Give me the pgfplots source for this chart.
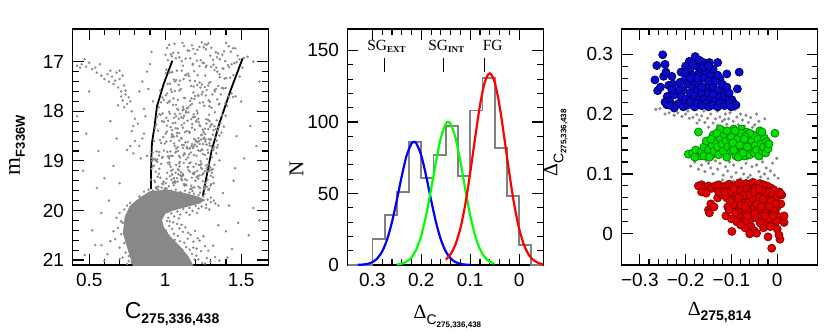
\documentclass[border=0pt]{standalone}
\usepackage{fontspec}
\setmainfont{Liberation Sans}
\newfontfamily\serif{Liberation Serif}
\usepackage{pgfplots}
\pgfplotsset{compat=1.18}

\definecolor{cmdgray}{RGB}{136,136,136}
\definecolor{histgray}{RGB}{128,128,128}
\definecolor{bfill}{RGB}{10,10,205}
\definecolor{bedge}{RGB}{0,0,110}
\definecolor{gfill}{RGB}{0,225,0}
\definecolor{gedge}{RGB}{0,135,0}
\definecolor{rfill}{RGB}{225,0,0}
\definecolor{redge}{RGB}{140,0,0}

\pgfplotsset{
  panel/.style={
    width=196pt, height=236pt, scale only axis,
    tick align=inside,
    ticklabel style={font=\fontsize{19}{19}\selectfont},
    /pgf/number format/assume math mode=true,
    major tick length=11pt, minor tick length=6pt,
    every tick/.style={black, line width=1.1pt},
    axis line style={line width=1.6pt},
    xticklabel style={yshift=-5pt},
    yticklabel style={xshift=-5pt},
    clip=true,
  },
  dot/.style={only marks, mark=*, mark size=4pt, line width=0.8pt},
}

\begin{document}
\begin{tikzpicture}
\useasboundingbox (0,0) rectangle (831pt,333pt);

%% ---------- left: CMD ----------
\begin{axis}[panel,
  at={(72.5pt,68pt)}, anchor=south west,
  xmin=0.39, xmax=1.68, ymin=16.34, ymax=21.1, y dir=reverse,
  xtick={0.5,1,1.5}, minor x tick num=4,
  ytick={17,18,19,20,21}, minor y tick num=4,
  xlabel={\fontsize{23}{23}\selectfont C\raisebox{-5pt}{\fontsize{14}{14}\selectfont\bfseries 275,336,438}},
  xlabel style={at={(axis description cs:0.508,-0.2246)}, anchor=base},
  ylabel={{\serif\fontsize{23}{23}\selectfont m}\raisebox{-5pt}{\fontsize{13}{13}\selectfont\bfseries F336W}},
  ylabel style={at={(axis description cs:-0.283,0.508)}, anchor=center, rotate=0},
]
\addplot[only marks, mark=*, mark size=1pt, color=cmdgray] coordinates {
(1.012,16.72) (1.037,16.85) (1.274,16.66) (1.158,16.78) (1.401,16.62) (1.093,16.91) (1.226,16.70) (1.349,16.83) (1.061,16.64) (1.488,16.95)
(1.185,16.74) (1.297,16.88) (1.124,16.68) (1.432,16.80) (1.018,16.97) (1.253,16.71) (1.376,16.86) (1.147,16.77) (1.519,16.92) (1.209,16.98)
(1.071,16.93) (1.333,16.81) (1.462,16.73) (1.109,16.99) (1.241,16.61) (1.044,16.89) (1.387,16.79) (1.176,16.67) (1.316,16.96) (1.197,16.84)
(1.283,16.63) (1.542,16.90) (1.052,16.82) (1.419,16.69) (1.135,16.94) (1.268,16.75) (1.359,16.95) (1.087,16.82) (1.447,16.73) (1.003,16.86)
(1.212,16.76) (1.304,16.72) (1.166,16.93) (1.395,16.99) (1.026,16.66) (1.477,16.88) (1.233,16.97) (1.114,16.62) (1.342,16.91) (1.261,16.65)
(1.182,17.04) (1.047,17.21) (1.336,17.12) (1.121,17.35) (1.413,17.07) (1.264,17.28) (1.008,17.16) (1.297,17.41) (1.455,17.03) (1.152,17.24)
(1.378,17.13) (1.073,17.37) (1.226,17.09) (1.491,17.30) (1.109,17.18) (1.318,17.06) (1.247,17.02) (1.016,17.45) (1.359,17.31) (1.191,17.19)
(1.283,17.48) (1.064,17.40) (1.437,17.05) (1.139,17.26) (1.211,17.47) (1.402,17.33) (1.032,17.44) (1.343,17.20) (1.171,17.49) (1.266,17.11)
(1.098,17.38) (1.448,17.27) (1.227,17.42) (1.325,17.17) (1.057,17.36) (1.383,17.14) (1.156,17.29) (1.289,17.43) (1.004,17.23) (1.471,17.01)
(1.241,17.46) (1.117,17.08) (1.196,17.39) (1.357,17.25) (1.089,17.47) (1.302,17.10) (1.163,17.38) (1.428,17.32) (1.029,17.22) (1.254,17.03)
(1.391,17.34) (1.133,17.27) (1.508,17.12) (1.213,17.27) (1.077,17.18) (1.348,17.49) (1.181,17.06) (1.272,17.08) (1.421,17.11) (1.043,17.21)
(1.103,17.55) (0.982,17.72) (1.247,17.61) (1.165,17.88) (1.374,17.53) (1.029,17.79) (1.311,17.66) (1.142,17.94) (0.967,17.58) (1.228,17.83)
(1.419,17.70) (1.086,17.97) (1.186,17.62) (1.352,17.86) (1.054,17.74) (1.273,17.57) (1.118,17.91) (1.396,17.84) (1.004,17.68) (1.209,17.99)
(1.327,17.60) (1.071,17.87) (1.261,17.51) (0.991,17.77) (1.437,17.64) (1.152,17.92) (1.038,17.56) (1.294,17.81) (1.197,17.69) (1.121,17.96)
(1.366,17.66) (1.013,17.64) (1.232,17.52) (1.079,17.95) (1.343,17.76) (1.176,17.85) (1.447,17.71) (1.062,17.59) (1.258,17.89) (1.131,17.73)
(1.384,17.54) (0.973,17.82) (1.217,17.67) (1.305,17.93) (1.094,17.58) (1.408,17.89) (1.164,17.79) (1.027,17.81) (1.286,17.78) (1.241,17.66)
(1.115,17.98) (1.357,17.85) (1.043,17.61) (1.192,17.75) (1.326,17.57) (0.957,17.92) (1.268,17.68) (1.137,17.99) (1.398,17.53) (1.083,17.77)
(1.219,17.69) (1.015,17.83) (1.335,17.55) (1.173,17.74) (1.052,17.87) (1.291,17.90) (1.463,17.70) (1.124,17.73) (1.249,17.82) (1.187,17.50)
(1.064,18.05) (1.221,18.22) (0.947,18.11) (1.318,18.38) (1.137,18.03) (1.012,18.29) (1.269,18.16) (1.093,18.44) (1.374,18.08) (1.176,18.33)
(0.978,18.20) (1.242,18.47) (1.106,18.12) (1.333,18.36) (1.051,18.24) (1.289,18.07) (1.158,18.41) (0.934,18.34) (1.207,18.18) (1.357,18.49)
(1.072,18.10) (1.194,18.37) (1.026,18.01) (1.301,18.27) (1.118,18.14) (1.253,18.42) (0.962,18.06) (1.386,18.31) (1.147,18.19) (1.043,18.46)
(1.231,18.30) (1.089,18.15) (1.327,18.02) (1.004,18.45) (1.178,18.26) (1.262,18.35) (0.991,18.21) (1.124,18.09) (1.345,18.39) (1.067,18.23)
(1.213,18.04) (1.036,18.32) (1.282,18.17) (1.161,18.43) (1.398,18.09) (0.953,18.39) (1.109,18.28) (1.237,18.48) (1.019,18.19) (1.315,18.47)
(1.082,18.35) (1.196,18.11) (1.272,18.25) (0.972,18.07) (1.131,18.42) (1.364,18.24) (1.048,18.48) (1.226,18.28) (1.153,18.02) (1.296,18.31)
(1.008,18.13) (1.187,18.06) (1.339,18.18) (1.077,18.44) (1.248,18.37) (0.941,18.27) (1.116,18.33) (1.309,18.26) (1.059,18.13) (1.204,18.21)
(1.142,18.40) (1.371,18.43) (0.983,18.04) (1.263,18.46) (1.097,18.05) (1.324,18.30) (1.031,18.05) (1.171,18.16) (1.284,18.36) (1.125,18.24)
(1.352,18.32) (1.011,18.41) (1.218,18.15) (1.069,18.34) (1.292,18.20) (1.183,18.12) (1.046,18.38)
(1.043,18.52) (1.187,18.71) (0.926,18.60) (1.262,18.88) (1.109,18.55) (1.318,18.77) (0.974,18.64) (1.151,18.93) (1.236,18.57) (1.071,18.82)
(1.293,18.69) (0.948,18.97) (1.204,18.61) (1.127,18.85) (1.341,18.73) (1.018,18.91) (1.169,18.83) (1.272,18.67) (0.937,18.99) (1.092,18.59)
(1.248,18.86) (1.056,18.51) (1.311,18.76) (1.133,18.63) (0.983,18.92) (1.219,18.54) (1.084,18.80) (1.347,18.68) (1.026,18.95) (1.178,18.66)
(1.256,18.53) (0.912,18.94) (1.117,18.74) (1.283,18.84) (1.062,18.70) (1.201,18.58) (0.959,18.89) (1.142,18.72) (1.327,18.53) (1.034,18.81)
(1.227,18.66) (1.098,18.93) (1.301,18.56) (0.991,18.79) (1.163,18.74) (1.266,18.57) (1.049,18.90) (1.213,18.62) (0.921,18.97) (1.122,18.68)
(1.336,18.85) (1.077,18.50) (1.244,18.78) (1.008,18.61) (1.189,18.88) (1.291,18.64) (0.967,18.58) (1.138,18.97) (1.231,18.80) (1.059,18.65)
(1.308,18.93) (1.104,18.54) (0.943,18.81) (1.196,18.67) (1.275,18.96) (1.036,18.60) (1.157,18.87) (1.322,18.72) (0.988,18.52) (1.112,18.68)
(1.253,18.55) (1.067,18.83) (1.209,18.71) (0.931,18.96) (1.146,18.75) (1.286,18.56) (1.023,18.91) (1.174,18.70) (1.338,18.59) (1.091,18.90)
(1.241,18.77) (0.962,18.82) (1.128,18.86) (1.303,18.70) (1.052,18.51) (1.218,18.79) (0.998,18.65) (1.161,18.75) (1.279,18.78) (1.082,18.72)
(1.357,18.99) (0.917,18.83) (1.191,18.56) (1.119,18.89) (1.264,18.61) (1.038,18.90) (1.223,18.60) (0.979,18.94) (1.148,18.62) (1.297,18.58)
(1.072,18.75) (1.206,18.90) (1.014,18.82) (1.183,18.74) (1.249,18.66)
(1.027,19.03) (1.164,19.22) (0.918,19.11) (1.248,19.41) (1.093,19.05) (1.301,19.30) (0.962,19.16) (1.137,19.48) (1.222,19.08) (1.058,19.35)
(1.277,19.21) (0.941,19.53) (1.186,19.12) (1.112,19.39) (1.319,19.45) (1.009,19.36) (1.153,19.19) (1.263,19.55) (0.927,19.10) (1.081,19.42)
(1.234,19.01) (1.046,19.27) (1.292,19.14) (1.124,19.47) (0.973,19.06) (1.207,19.33) (1.069,19.24) (1.314,19.17) (1.017,19.04) (1.171,19.50)
(1.245,19.28) (0.904,19.38) (1.103,19.23) (1.268,19.09) (1.051,19.44) (1.189,19.26) (0.948,19.02) (1.131,19.37) (1.306,19.18) (1.024,19.51)
(1.213,19.31) (1.087,19.27) (1.284,19.07) (0.982,19.46) (1.149,19.13) (1.256,19.57) (1.038,19.20) (1.198,19.40) (0.913,19.00) (1.108,19.32)
(1.297,19.13) (1.066,19.44) (1.231,19.09) (0.996,19.58) (1.176,19.34) (1.273,19.15) (0.955,19.52) (1.122,19.04) (1.218,19.36) (1.049,19.18)
(1.289,19.56) (1.094,19.11) (0.934,19.43) (1.182,19.25) (1.261,19.21) (1.029,19.07) (1.143,19.39) (1.308,19.24) (0.977,19.54) (1.101,19.29)
(1.239,19.06) (1.057,19.49) (1.194,19.23) (0.922,19.10) (1.133,19.48) (1.279,19.38) (1.013,19.24) (1.167,19.03) (1.316,19.33) (1.084,19.17)
(1.226,19.29) (0.951,19.32) (1.117,19.26) (1.287,19.59) (1.042,19.38) (1.203,19.06) (0.989,19.42) (1.151,19.12) (1.264,19.45) (1.072,19.08)
(1.298,19.50) (0.909,19.16) (1.178,19.55) (1.106,19.37) (1.252,19.25) (1.031,19.31) (1.211,19.20) (0.968,19.34) (1.139,19.49) (1.283,19.58)
(1.063,19.41) (1.192,19.53) (1.004,19.45) (1.172,19.56) (1.236,19.14) (1.091,19.19) (1.325,19.08) (0.937,19.22) (1.158,19.05) (1.047,19.28)
(1.274,19.52) (1.118,19.29) (1.001,19.55) (1.243,19.16) (1.079,19.35) (1.187,19.27) (0.958,19.26) (1.127,19.50) (1.303,19.47) (1.036,19.12)
(1.219,19.52) (0.929,19.40) (1.096,19.02) (1.258,19.51) (1.061,19.42) (1.166,19.57) (1.292,19.20) (0.986,19.47) (1.113,19.30) (1.229,19.55)
(0.86,19.62) (0.88,19.70) (0.85,19.78) (0.89,19.58) (0.92,19.60) (0.95,19.57) (0.98,19.62) (1.01,19.56) (1.04,19.60) (1.07,19.58)
(1.10,19.63) (1.13,19.60) (1.16,19.64) (1.19,19.66) (1.22,19.69) (1.25,19.72) (1.28,19.78) (1.30,19.83) (1.27,19.88) (1.24,19.92)
(1.20,19.91) (1.16,19.95) (1.12,19.97) (1.08,20.02) (1.04,20.06) (1.30,19.74) (1.26,19.67) (1.23,19.64) (1.18,19.61) (0.94,19.55)
(0.90,19.65) (0.83,19.72) (0.81,19.82) (0.80,19.88) (1.22,19.96) (1.18,20.01) (1.14,20.04) (1.10,20.08) (1.06,20.12) (1.02,20.15)
(1.27,19.95) (1.32,19.80) (1.33,19.86) (1.29,19.98) (1.35,19.90) (1.21,20.05) (1.16,20.09) (1.09,20.16) (1.03,20.22)
(0.70,20.05) (0.68,20.15) (0.72,20.25) (0.69,20.35) (0.71,20.48) (0.67,20.58) (0.73,20.66) (0.70,20.75) (0.74,20.85) (0.72,20.95)
(0.76,21.02) (0.75,21.08) (0.66,20.42) (0.64,20.62) (0.62,20.88) (0.73,19.98) (0.75,19.90) (0.77,19.85) (0.71,20.22) (0.74,20.52)
(0.76,20.92) (0.78,21.05) (0.70,20.98) (0.58,20.70) (0.60,21.02)
(1.012,20.21) (1.027,20.31) (1.046,20.37) (1.058,20.47) (1.083,20.51) (1.097,20.62) (1.126,20.65) (1.138,20.74) (1.162,20.79) (1.177,20.88)
(1.204,20.91) (1.218,20.99) (1.243,21.06) (1.053,20.24) (1.094,20.36) (1.117,20.43) (1.148,20.57) (1.186,20.63) (1.207,20.77) (1.236,20.82)
(1.274,20.96) (1.297,21.03) (1.006,20.41) (1.064,20.59) (1.113,20.79) (1.193,20.99) (1.262,21.07) (1.078,20.27) (1.133,20.34) (1.168,20.49)
(1.226,20.61) (1.284,20.81) (1.328,20.94) (1.252,20.52) (1.316,20.71) (1.357,21.01) (1.196,20.41) (1.033,20.69) (1.072,20.88) (1.141,21.02)
(1.152,20.45) (1.108,20.29) (1.214,20.56) (1.262,20.72) (1.185,20.75)
(0.62,17.25) (0.65,17.30) (0.68,17.22) (0.70,17.35) (0.72,17.28) (0.66,17.45) (0.69,17.52) (0.73,17.48) (0.71,17.60) (0.74,17.66)
(0.76,17.72) (0.72,17.78) (0.75,17.85) (0.77,17.80) (0.73,17.92) (0.78,18.00) (0.74,17.58) (0.63,17.40) (0.60,17.35) (0.67,17.38)
(0.70,17.18) (0.64,17.18) (0.58,17.28) (0.55,17.22) (0.71,17.70) (0.69,17.88)
(0.45,17.05) (0.48,17.10) (0.50,17.02) (0.52,17.15) (0.47,16.95) (0.42,17.08) (0.54,17.12) (0.57,17.05) (0.44,17.12)
(0.80,18.15) (0.78,18.40) (0.82,18.25) (0.85,18.55) (0.83,18.70) (0.86,18.45) (0.88,18.90) (0.84,18.95) (0.80,18.60) (0.79,18.30)
(0.87,18.10) (0.86,17.95) (0.83,17.60) (0.85,17.40) (0.88,17.20) (0.90,17.05) (0.91,16.80) (0.89,17.55) (0.92,17.80)
(0.77,18.70) (0.75,18.78) (0.79,18.85)
(0.48,18.45) (0.46,19.20) (0.55,19.55) (0.58,20.05) (0.52,20.40) (0.63,19.80) (0.60,19.35) (0.66,19.10) (0.70,19.45) (0.56,18.80)
(0.68,18.55) (1.42,19.90) (1.48,20.25) (1.55,20.50) (1.40,20.42) (1.45,19.40) (1.52,18.95) (1.60,18.70) (1.38,19.65) (1.58,19.95)
(1.35,20.30) (1.44,20.78) (1.50,17.80) (1.56,18.30) (1.62,17.40) (1.58,17.00) (1.47,18.50) (1.41,20.95) (0.50,17.60) (0.42,18.10)
(0.47,20.90) (0.54,20.70) (1.62,20.20) (0.64,18.20) (1.46,19.15)
};
% dense main-sequence / subgiant region
\addplot[fill=cmdgray, draw=cmdgray, line width=1pt] coordinates {
(0.90,19.62) (1.009,19.59) (1.118,19.65) (1.205,19.72) (1.259,19.79) (1.227,19.85) (1.139,19.92)
(1.052,19.99) (0.998,20.06) (0.976,20.19) (0.987,20.33) (1.031,20.53) (1.096,20.73) (1.150,20.93)
(1.183,21.12) (0.791,21.12) (0.758,20.80) (0.725,20.46) (0.737,20.13) (0.769,19.92) (0.835,19.75) (0.90,19.62)
};
% fiducial lines
\addplot[black, line width=1.8pt] coordinates {
(1.047,16.98) (0.99,17.45) (0.946,17.90) (0.93,18.30) (0.913,18.64) (0.908,19.00) (0.906,19.57)
};
\addplot[black, line width=1.8pt] coordinates {
(1.51,16.93) (1.43,17.58) (1.357,18.24) (1.305,18.80) (1.27,19.35) (1.248,19.70)
};
\end{axis}

%% ---------- middle: histogram ----------
\begin{axis}[panel,
  at={(347.5pt,68pt)}, anchor=south west,
  xmin=-0.05, xmax=0.351, x dir=reverse, ymin=0, ymax=165,
  xtick={0,0.1,0.2,0.3}, minor x tick num=4,
  ytick={0,50,100,150}, minor y tick num=4,
  xlabel={{\serif\fontsize{20}{20}\selectfont\symbol{"0394}}\raisebox{-6pt}{\fontsize{14}{14}\selectfont C\raisebox{-3pt}{\fontsize{8}{8}\selectfont\bfseries 275,336,438}}},
  xlabel style={at={(axis description cs:0.51,-0.2246)}, anchor=base},
  ylabel={\serif\fontsize{21}{21}\selectfont N},
  ylabel style={at={(axis description cs:-0.26,0.407)}, anchor=center, rotate=0},
]
\addplot[const plot, histgray, line width=1.8pt] coordinates {
(0.35,0) (0.30,18) (0.275,35) (0.25,51) (0.225,86) (0.20,61) (0.175,77) (0.15,97)
(0.125,62) (0.10,108) (0.075,131) (0.05,82) (0.025,48) (0.0,14) (-0.025,0) (-0.05,0)
};
\addplot[smooth, blue, line width=2.2pt] coordinates {
(0.33,0.1) (0.32,0.3) (0.31,0.8) (0.30,2.0) (0.29,4.6) (0.28,9.5) (0.27,17.8) (0.26,30.0) (0.25,45.5)
(0.24,62.1) (0.23,76.5) (0.22,84.9) (0.215,86) (0.21,84.9) (0.20,76.5) (0.19,62.1) (0.18,45.5) (0.17,30.0)
(0.16,17.8) (0.15,9.5) (0.14,4.6) (0.13,2.0) (0.12,0.8) (0.11,0.3) (0.10,0.1)
};
\addplot[smooth, green, line width=2.2pt] coordinates {
(0.25,0.3) (0.24,0.9) (0.23,2.3) (0.22,5.4) (0.21,11.1) (0.20,20.7) (0.19,34.9) (0.18,52.9) (0.17,72.2)
(0.16,89.0) (0.15,98.7) (0.145,100) (0.14,98.7) (0.13,89.0) (0.12,72.2) (0.11,52.9) (0.10,34.9) (0.09,20.7)
(0.08,11.1) (0.07,5.4) (0.06,2.3) (0.05,0.9)
};
\addplot[smooth, red, line width=2.2pt] coordinates {
(0.15,3.8) (0.14,7.6) (0.13,14.5) (0.12,25.7) (0.11,42.5) (0.10,64.3) (0.09,88.6) (0.08,111.5) (0.07,128.0)
(0.06,134) (0.05,128.0) (0.04,111.5) (0.03,88.6) (0.02,64.3) (0.01,42.5) (0.0,25.7) (-0.01,14.1) (-0.02,7.1)
(-0.03,3.3) (-0.04,1.4) (-0.05,0.5)
};
\addplot[black, line width=1pt] coordinates {(0.275,135) (0.275,145)};
\addplot[black, line width=1pt] coordinates {(0.155,135) (0.155,145)};
\addplot[black, line width=1pt] coordinates {(0.070,135) (0.070,145)};
\node[anchor=base west, inner sep=0pt] at (axis cs:0.311,150)
  {\serif\fontsize{15.5}{15.5}\selectfont SG\raisebox{-2pt}{\fontsize{9}{9}\selectfont\bfseries EXT}};
\node[anchor=base west, inner sep=0pt] at (axis cs:0.186,150)
  {\serif\fontsize{15.5}{15.5}\selectfont SG\raisebox{-2pt}{\fontsize{9}{9}\selectfont\bfseries INT}};
\node[anchor=base west, inner sep=0pt] at (axis cs:0.0745,150)
  {\serif\fontsize{15.5}{15.5}\selectfont FG};
\end{axis}

%% ---------- right: two-colour diagram ----------
\begin{axis}[panel,
  at={(621.5pt,68pt)}, anchor=south west,
  xmin=-0.34, xmax=0.088, ymin=-0.052, ymax=0.342,
  xtick={-0.3,-0.2,-0.1,0}, xticklabels={−0.3,−0.2,−0.1,0}, minor x tick num=4,
  ytick={0,0.1,0.2,0.3}, minor y tick num=4,
  xlabel={{\serif\fontsize{20}{20}\selectfont\symbol{"0394}}\raisebox{-5pt}{\fontsize{14}{14}\selectfont\bfseries 275,814}},
  xlabel style={at={(axis description cs:0.5,-0.212)}, anchor=base},
  ylabel={{\serif\fontsize{20}{20}\selectfont\symbol{"0394}}\raisebox{-6pt}{\fontsize{14}{14}\selectfont C\raisebox{-3pt}{\fontsize{8}{8}\selectfont\bfseries 275,336,438}}},
  ylabel style={at={(axis description cs:-0.335,0.517)}, anchor=center, rotate=0},
]
\addplot[only marks, mark=*, mark size=1.4pt, color=cmdgray] coordinates {
(-0.265,0.208) (-0.256,0.209) (-0.245,0.200) (-0.236,0.202) (-0.225,0.198) (-0.217,0.202) (-0.208,0.196) (-0.200,0.200)
(-0.192,0.193) (-0.184,0.1945) (-0.176,0.199) (-0.170,0.190) (-0.165,0.197) (-0.158,0.186) (-0.152,0.193) (-0.145,0.200)
(-0.140,0.185) (-0.135,0.192) (-0.130,0.181) (-0.125,0.195) (-0.120,0.188) (-0.118,0.177) (-0.113,0.200) (-0.110,0.183)
(-0.106,0.192) (-0.103,0.202) (-0.100,0.178) (-0.096,0.188) (-0.092,0.207) (-0.088,0.195) (-0.085,0.182) (-0.080,0.200)
(-0.076,0.190) (-0.072,0.180) (-0.068,0.198) (-0.063,0.186) (-0.058,0.194) (-0.054,0.178) (-0.049,0.182) (-0.045,0.200)
(-0.040,0.188) (-0.035,0.176) (-0.027,0.192) (-0.130,0.205) (-0.150,0.178) (-0.160,0.205) (-0.175,0.185) (-0.195,0.205)
(-0.115,0.191) (-0.095,0.175)
(-0.189,0.113) (-0.180,0.120) (-0.172,0.108) (-0.165,0.115) (-0.158,0.104) (-0.150,0.118) (-0.145,0.110) (-0.140,0.100)
(-0.135,0.122) (-0.130,0.108) (-0.125,0.118) (-0.120,0.090) (-0.118,0.098) (-0.113,0.112) (-0.108,0.105) (-0.104,0.120)
(-0.100,0.095) (-0.095,0.115) (-0.090,0.102) (-0.085,0.124) (-0.080,0.092) (-0.078,0.110) (-0.073,0.100) (-0.068,0.118)
(-0.064,0.094) (-0.059,0.098) (-0.055,0.112) (-0.050,0.090) (-0.045,0.115) (-0.040,0.104) (-0.036,0.095) (-0.032,0.120)
(-0.028,0.100) (-0.024,0.110) (-0.020,0.092) (-0.015,0.105) (-0.010,0.118) (-0.006,0.098) (-0.001,0.126) (0.002,0.093)
(-0.035,0.125) (-0.065,0.125) (-0.095,0.088) (-0.110,0.125) (-0.155,0.122)
};
\addplot[dot, mark options={fill=bfill, draw=bedge}] coordinates {
(-0.250,0.299) (-0.263,0.281) (-0.245,0.283) (-0.267,0.257) (-0.261,0.239) (-0.248,0.263) (-0.230,0.263) (-0.237,0.248)
(-0.240,0.2295) (-0.241,0.2155) (-0.255,0.245) (-0.243,0.270) (-0.228,0.250) (-0.235,0.222) (-0.220,0.215) (-0.225,0.232)
(-0.212,0.253) (-0.179,0.296) (-0.192,0.288) (-0.161,0.286) (-0.148,0.286) (-0.130,0.286) (-0.083,0.270) (-0.087,0.242)
(-0.110,0.267) (-0.125,0.259) (-0.118,0.238) (-0.099,0.224) (-0.110,0.222)
(-0.200,0.280) (-0.190,0.275) (-0.185,0.265) (-0.175,0.280) (-0.170,0.270) (-0.165,0.275) (-0.155,0.270) (-0.145,0.265)
(-0.140,0.275) (-0.200,0.260) (-0.195,0.250) (-0.185,0.245) (-0.180,0.255) (-0.175,0.240) (-0.170,0.250) (-0.160,0.260)
(-0.155,0.245) (-0.150,0.255) (-0.140,0.245) (-0.135,0.255) (-0.130,0.240) (-0.205,0.240) (-0.210,0.230) (-0.200,0.225)
(-0.190,0.235) (-0.185,0.225) (-0.180,0.230) (-0.170,0.225) (-0.165,0.235) (-0.160,0.225) (-0.150,0.235) (-0.145,0.225)
(-0.140,0.232) (-0.135,0.222) (-0.125,0.228) (-0.120,0.222) (-0.115,0.230) (-0.105,0.228) (-0.095,0.218) (-0.215,0.218)
(-0.205,0.212) (-0.195,0.215) (-0.190,0.220) (-0.180,0.212) (-0.175,0.218) (-0.165,0.214) (-0.155,0.218) (-0.150,0.212)
(-0.140,0.215) (-0.130,0.212) (-0.125,0.218) (-0.115,0.214) (-0.105,0.218) (-0.100,0.212) (-0.090,0.215) (-0.225,0.210)
(-0.185,0.283) (-0.170,0.290) (-0.160,0.278) (-0.150,0.280) (-0.175,0.260) (-0.165,0.245) (-0.190,0.260) (-0.210,0.270)
(-0.200,0.270) (-0.120,0.250) (-0.130,0.265) (-0.110,0.245) (-0.105,0.235) (-0.215,0.240) (-0.235,0.215) (-0.245,0.220)
(-0.230,0.240)
};
\addplot[dot, mark options={fill=gfill, draw=gedge}] coordinates {
(-0.194,0.133) (-0.185,0.135) (-0.178,0.140) (-0.172,0.170) (-0.170,0.130) (-0.165,0.138) (-0.160,0.145) (-0.155,0.132)
(-0.150,0.140) (-0.145,0.130) (-0.142,0.148) (-0.138,0.138) (-0.135,0.155) (-0.130,0.145) (-0.128,0.132) (-0.125,0.160)
(-0.120,0.150) (-0.118,0.138) (-0.115,0.165) (-0.112,0.155) (-0.110,0.128) (-0.108,0.145) (-0.105,0.170) (-0.102,0.160)
(-0.100,0.138) (-0.098,0.150) (-0.095,0.175) (-0.093,0.165) (-0.090,0.130) (-0.090,0.155) (-0.088,0.145) (-0.085,0.170)
(-0.083,0.160) (-0.082,0.135) (-0.080,0.152) (-0.078,0.175) (-0.077,0.142) (-0.075,0.165) (-0.073,0.155) (-0.072,0.130)
(-0.070,0.148) (-0.068,0.170) (-0.067,0.138) (-0.065,0.160) (-0.062,0.150) (-0.060,0.132) (-0.058,0.142) (-0.055,0.155)
(-0.052,0.165) (-0.050,0.135) (-0.048,0.148) (-0.045,0.140) (-0.042,0.158) (-0.040,0.130) (-0.038,0.172) (-0.035,0.150)
(-0.032,0.138) (-0.030,0.145) (-0.028,0.160) (-0.025,0.135) (-0.023,0.154) (-0.020,0.142) (-0.018,0.150) (-0.005,0.168)
(-0.033,0.170) (-0.110,0.172) (-0.125,0.175) (-0.140,0.165) (-0.155,0.155) (-0.160,0.130) (-0.180,0.128) (-0.085,0.128)
(-0.095,0.140) (-0.075,0.135) (-0.060,0.168) (-0.065,0.145) (-0.100,0.162) (-0.087,0.158) (-0.079,0.168) (-0.092,0.172)
(-0.070,0.162) (-0.096,0.152) (-0.082,0.148) (-0.072,0.158) (-0.145,0.158) (-0.132,0.168) (-0.148,0.128)
};
\addplot[dot, mark options={fill=rfill, draw=redge}] coordinates {
(-0.172,0.080) (-0.165,0.082) (-0.158,0.078) (-0.150,0.080) (-0.143,0.076) (-0.135,0.080) (-0.128,0.082) (-0.120,0.078)
(-0.113,0.080) (-0.105,0.083) (-0.098,0.079) (-0.090,0.081) (-0.083,0.085) (-0.075,0.080) (-0.068,0.084) (-0.060,0.082)
(-0.053,0.086) (-0.045,0.080) (-0.038,0.084) (-0.030,0.082) (-0.022,0.080) (-0.015,0.077) (-0.008,0.074)
(-0.165,0.070) (-0.155,0.068) (-0.145,0.050) (-0.150,0.040) (-0.148,0.035) (-0.138,0.045) (-0.130,0.060) (-0.120,0.065)
(-0.128,0.070) (-0.110,0.060) (-0.115,0.070)
(-0.100,0.070) (-0.095,0.058) (-0.092,0.045) (-0.088,0.066) (-0.085,0.052) (-0.082,0.038) (-0.080,0.072) (-0.078,0.060)
(-0.076,0.028) (-0.074,0.046) (-0.072,0.068) (-0.070,0.055) (-0.068,0.035) (-0.066,0.075) (-0.064,0.062) (-0.062,0.042)
(-0.060,0.022) (-0.058,0.070) (-0.056,0.050) (-0.054,0.032) (-0.052,0.064) (-0.050,0.044) (-0.048,0.076) (-0.046,0.056)
(-0.044,0.026) (-0.042,0.038) (-0.040,0.068) (-0.038,0.050) (-0.036,0.060) (-0.034,0.030) (-0.032,0.072) (-0.030,0.044)
(-0.028,0.055) (-0.026,0.020) (-0.024,0.065) (-0.022,0.035) (-0.020,0.048) (-0.018,0.070) (-0.016,0.058) (-0.014,0.028)
(-0.012,0.042) (-0.010,0.066) (-0.008,0.052) (-0.006,0.015) (-0.004,0.036) (-0.002,0.060) (0.000,0.045) (0.003,0.028)
(0.008,0.050) (0.010,0.065) (0.005,0.070)
(-0.095,0.075) (-0.086,0.030) (-0.079,0.048) (-0.071,0.020) (-0.063,0.052) (-0.057,0.012) (-0.049,0.034) (-0.043,0.062)
(-0.037,0.018) (-0.031,0.058) (-0.025,0.040) (-0.019,0.025) (-0.013,0.055) (-0.007,0.040) (-0.001,0.022) (-0.088,0.020)
(-0.070,0.045) (-0.065,0.030) (-0.055,0.060) (-0.045,0.050) (-0.035,0.045) (-0.027,0.030) (-0.017,0.045) (-0.009,0.030)
(-0.003,0.050) (-0.060,0.065) (-0.050,0.070) (-0.040,0.075) (-0.075,0.064) (-0.084,0.060) (-0.091,0.035) (-0.097,0.048)
(-0.103,0.055) (-0.108,0.045) (-0.112,0.030)
(-0.099,0.004) (-0.070,0.010) (-0.050,0.005) (-0.045,0.001) (-0.030,0.010) (-0.020,-0.005) (-0.012,-0.024) (0.015,0.019)
(0.006,-0.009) (0.000,0.008) (-0.015,0.012) (0.004,-0.002) (0.015,0.030) (-0.060,0.000) (-0.080,0.015) (-0.100,0.025)
(-0.105,0.040) (0.007,0.067)
};
\end{axis}
\end{tikzpicture}
\end{document}
